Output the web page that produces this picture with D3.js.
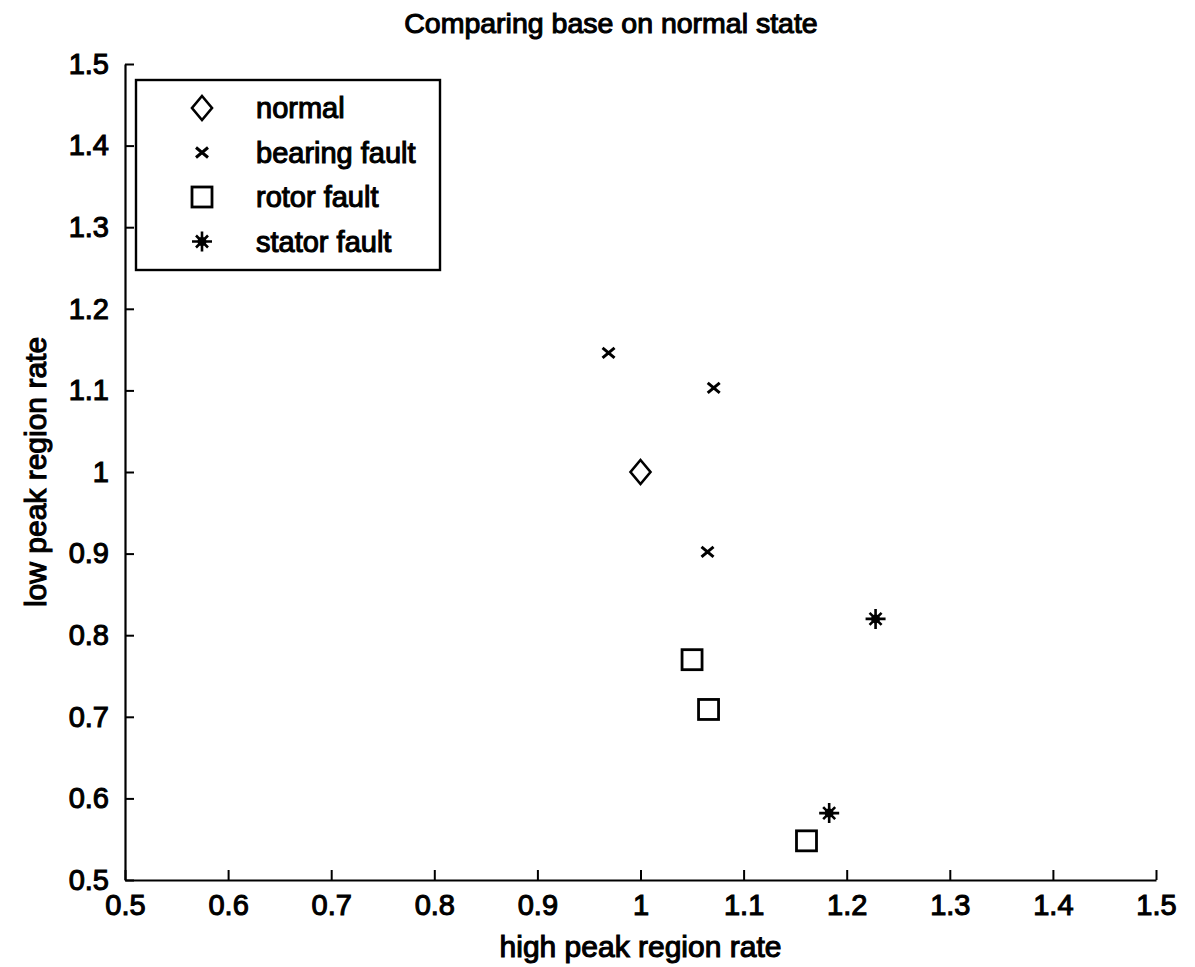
<!DOCTYPE html>
<html>
<head>
<meta charset="utf-8">
<script src="https://cdn.jsdelivr.net/npm/d3@7"></script>
<style>
  html, body { margin: 0; padding: 0; background: #fff; }
  svg text { font-family: "Liberation Sans", Arial, sans-serif; fill: #000; stroke: #000; stroke-width: 1.1px; }
</style>
</head>
<body>
<div id="chart"></div>
<script>
// ── Data ───────────────────────────────────────────────────────────────────
const normalX  = [1.0];
const normalY  = [1.0];
const bearingX = [0.969, 1.071, 1.065];
const bearingY = [1.146, 1.103, 0.902];
const rotorX   = [1.050, 1.066, 1.161];
const rotorY   = [0.770, 0.709, 0.548];
const statorX  = [1.228, 1.183];
const statorY  = [0.820, 0.582];

const xTicks = [0.5, 0.6, 0.7, 0.8, 0.9, 1, 1.1, 1.2, 1.3, 1.4, 1.5];
const yTicks = [0.5, 0.6, 0.7, 0.8, 0.9, 1, 1.1, 1.2, 1.3, 1.4, 1.5];

const legendLabels = ["normal", "bearing fault", "rotor fault", "stator fault"];
const legendKinds  = ["diamond", "times", "square", "star"];

const titleText = "Comparing base on normal state";
const xLabel = "high peak region rate";
const yLabel = "low peak region rate";

// ── Setup ─────────────────────────────────────────────────────────────────
const W = 1195, H = 967;
const svg = d3.select("#chart").append("svg")
  .attr("width", W).attr("height", H);

const x = d3.scaleLinear().domain([0.5, 1.5]).range([125, 1156]);
const y = d3.scaleLinear().domain([0.5, 1.5]).range([880, 64]);

const fmt = d => d3.format("")(d);

// x axis, ticks pointing inward
const xAxisG = svg.append("g")
  .attr("transform", `translate(0,${y(0.5)})`)
  .call(d3.axisBottom(x).tickValues(xTicks).tickFormat(fmt)
    .tickSizeInner(-10).tickSizeOuter(0).tickPadding(14));
xAxisG.select("path.domain").attr("stroke", "#000").attr("stroke-width", 2.2);
xAxisG.selectAll(".tick line").attr("stroke", "#000").attr("stroke-width", 2);
xAxisG.selectAll("text").style("font-size", "29px");

// y axis
const yAxisG = svg.append("g")
  .attr("transform", `translate(${x(0.5)},0)`)
  .call(d3.axisLeft(y).tickValues(yTicks).tickFormat(fmt)
    .tickSizeInner(-9).tickSizeOuter(0).tickPadding(16));
yAxisG.select("path.domain").attr("stroke", "#000").attr("stroke-width", 2.2);
yAxisG.selectAll(".tick line").attr("stroke", "#000").attr("stroke-width", 2);
yAxisG.selectAll("text").style("font-size", "29px");

// title & axis labels
svg.append("text")
  .attr("x", 611).attr("y", 33)
  .attr("text-anchor", "middle")
  .style("font-size", "28.5px")
  .text(titleText);

svg.append("text")
  .attr("x", (x(0.5) + x(1.5)) / 2).attr("y", 957)
  .attr("text-anchor", "middle")
  .style("font-size", "30px")
  .text(xLabel);

svg.append("text")
  .attr("transform", `translate(46,${(y(0.5) + y(1.5)) / 2}) rotate(-90)`)
  .attr("text-anchor", "middle")
  .style("font-size", "30px")
  .text(yLabel);

// ── Marker drawing ─────────────────────────────────────────────────────────
function drawMarker(g, kind, cx, cy) {
  const m = g.append("g").attr("transform", `translate(${cx},${cy})`);
  if (kind === "diamond") {
    m.append("path")
      .attr("d", "M0,-12L10,0L0,12L-10,0Z")
      .attr("fill", "none").attr("stroke", "#000").attr("stroke-width", 2.6);
  } else if (kind === "times") {
    m.append("path")
      .attr("d", "M-6,-5L6,5M-6,5L6,-5")
      .attr("stroke", "#000").attr("stroke-width", 3);
  } else if (kind === "square") {
    m.append("rect")
      .attr("x", -10).attr("y", -10).attr("width", 20).attr("height", 20)
      .attr("fill", "none").attr("stroke", "#000").attr("stroke-width", 2.8);
  } else if (kind === "star") {
    m.append("path")
      .attr("d", "M-10,0L10,0M0,-10L0,10M-6,-6L6,6M-6,6L6,-6")
      .attr("stroke", "#000").attr("stroke-width", 2.6);
    m.append("circle").attr("r", 4.5).attr("fill", "#000");
  }
}

const series = [
  { kind: "diamond", xs: normalX,  ys: normalY },
  { kind: "times",   xs: bearingX, ys: bearingY },
  { kind: "square",  xs: rotorX,   ys: rotorY },
  { kind: "star",    xs: statorX,  ys: statorY }
];

const plotG = svg.append("g");
series.forEach(s => {
  s.xs.forEach((v, i) => drawMarker(plotG, s.kind, x(v), y(s.ys[i])));
});

// ── Legend ─────────────────────────────────────────────────────────────────
const legG = svg.append("g");
legG.append("rect")
  .attr("x", 136).attr("y", 80).attr("width", 304).attr("height", 190)
  .attr("fill", "#fff").attr("stroke", "#000").attr("stroke-width", 2.4);

legendLabels.forEach((lab, i) => {
  const cy = 108 + i * 44.5;
  drawMarker(legG, legendKinds[i], 202, cy);
  legG.append("text")
    .attr("x", 256).attr("y", cy)
    .attr("dy", "0.36em")
    .style("font-size", "29px")
    .text(lab);
});
</script>
</body>
</html>
